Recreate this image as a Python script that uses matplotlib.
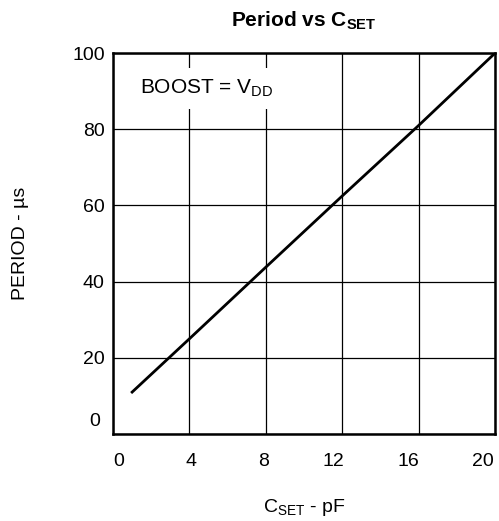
import matplotlib.pyplot as plt
import matplotlib.transforms as mtransforms

plt.rcParams['font.family'] = ['Liberation Sans', 'DejaVu Sans']
plt.rcParams['mathtext.fontset'] = 'custom'
plt.rcParams['mathtext.rm'] = 'Liberation Sans'
plt.rcParams['mathtext.bf'] = 'Liberation Sans:bold'

# C_SET in pF vs period in us
cset = [1, 4, 8, 12, 16, 20]
period = [11, 25, 43.8, 62.5, 81, 100]
xticks = [0, 4, 8, 12, 16, 20]
yticks = [0, 20, 40, 60, 80, 100]

fig = plt.figure(figsize=(4.99, 5.21), dpi=100)
ax = fig.add_axes([0.2265, 0.167, 0.7655, 0.731])

ax.plot(cset, period, color='black', linewidth=2.0, zorder=3)
ax.set_xlim(0, 20)
ax.set_ylim(0, 100)
ax.set_xticks(xticks)
ax.set_yticks(yticks)
ax.grid(True, color='black', linewidth=0.9)
ax.tick_params(length=0, labelsize=14)
ax.tick_params(axis='x', pad=14)
ax.tick_params(axis='y', pad=6)
for s in ax.spines.values():
    s.set_linewidth(1.8)

# nudge tick labels like the original artwork
xshift = [6, 2, -2, -9, -10, -12]
for lab, dx in zip(ax.get_xticklabels(), xshift):
    lab.set_transform(lab.get_transform() + mtransforms.ScaledTranslation(dx / 100, 0, fig.dpi_scale_trans))
ylab0 = ax.get_yticklabels()[0]
ylab0.set_transform(ylab0.get_transform() + mtransforms.ScaledTranslation(-5 / 100, 14 / 100, fig.dpi_scale_trans))

ax.text(1.4, 90.8, r'BOOST = V$_{\mathrm{DD}}$', fontsize=15, va='center',
        bbox=dict(facecolor='white', edgecolor='none', pad=7), zorder=4)

ax.set_title(r'Period vs C$_{\mathbf{SET}}$', fontsize=15, fontweight='bold', pad=19)
ax.set_xlabel(r'C$_{\mathrm{SET}}$ - pF', fontsize=14)
ax.set_ylabel('PERIOD - µs', fontsize=14)
ax.xaxis.set_label_coords(0.5, -0.166)
ax.yaxis.set_label_coords(-0.221, 0.5)

fig.savefig('out.png', dpi=100)
